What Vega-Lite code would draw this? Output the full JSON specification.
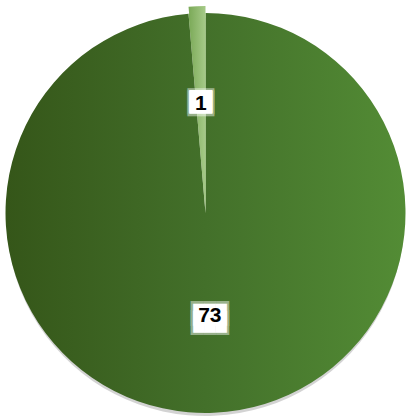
{
  "$schema": "https://vega.github.io/schema/vega-lite/v6.json",
  "width": 403,
  "height": 414,
  "autosize": "none",
  "padding": {"left": 4, "top": 6, "right": 0, "bottom": 0},
  "background": "white",
  "data": {"values": [{"cat": "A", "value": 73}, {"cat": "B", "value": 1}]},
  "encoding": {
    "theta": {"field": "value", "type": "quantitative", "stack": true},
    "order": {"field": "value", "sort": "descending"}
  },
  "layer": [
    {
      "mark": {"type": "arc", "radius": 199, "yOffset": 4, "fill": "#a8a8a8", "opacity": 0.5}
    },
    {
      "mark": {"type": "arc", "radius": 200},
      "encoding": {
        "fill": {
          "condition": {"test": "datum.cat == 'B'", "value": {"gradient": "linear", "stops": [{"offset": 0, "color": "#7aa957"}, {"offset": 1, "color": "#a6ca88"}]}},
          "value": {"gradient": "linear", "stops": [{"offset": 0, "color": "#355619"}, {"offset": 0.5, "color": "#43702a"}, {"offset": 1, "color": "#538c35"}]}
        }
      }
    },
    {
      "mark": {"type": "arc", "radius": 200, "yOffset": -7},
      "encoding": {
        "fill": {
          "condition": {"test": "datum.cat == 'B'", "value": {"gradient": "linear", "stops": [{"offset": 0, "color": "#7aa957"}, {"offset": 1, "color": "#a6ca88"}]}},
          "value": "transparent"
        }
      }
    },
    {
      "mark": {"type": "text", "radius": 111, "font": "DejaVu Sans Mono", "fontSize": 22, "lineHeight": 2, "color": "white", "baseline": "middle", "align": "center"},
      "encoding": {
        "text": {"value": ["██", "██"]},
        "opacity": {"condition": {"test": "datum.cat == 'A'", "value": 0}, "value": 0.45}
      }
    },
    {
      "mark": {"type": "text", "radius": 111, "font": "DejaVu Sans Mono", "fontSize": 19, "lineHeight": 1, "color": "white", "baseline": "middle", "align": "center"},
      "encoding": {
        "text": {"value": ["██", "██"]},
        "opacity": {"condition": {"test": "datum.cat == 'A'", "value": 0}, "value": 1}
      }
    },
    {
      "mark": {"type": "text", "radius": 111, "dy": 2, "font": "Liberation Sans", "fontWeight": "bold", "fontSize": 21, "color": "black", "baseline": "middle", "align": "center"},
      "encoding": {
        "text": {"field": "value", "type": "quantitative"},
        "opacity": {"condition": {"test": "datum.cat == 'A'", "value": 0}, "value": 1}
      }
    },
    {
      "mark": {"type": "text", "radius": 102, "font": "DejaVu Sans Mono", "fontSize": 21, "lineHeight": 9, "color": "white", "baseline": "middle", "align": "center"},
      "encoding": {
        "text": {"value": ["███", "███"]},
        "opacity": {"condition": {"test": "datum.cat == 'B'", "value": 0}, "value": 0.45}
      }
    },
    {
      "mark": {"type": "text", "radius": 102, "font": "DejaVu Sans Mono", "fontSize": 18.5, "lineHeight": 7, "color": "white", "baseline": "middle", "align": "center"},
      "encoding": {
        "text": {"value": ["███", "███"]},
        "opacity": {"condition": {"test": "datum.cat == 'B'", "value": 0}, "value": 1}
      }
    },
    {
      "mark": {"type": "text", "radius": 102, "dy": 1, "font": "Liberation Sans", "fontWeight": "bold", "fontSize": 21, "color": "black", "baseline": "middle", "align": "center"},
      "encoding": {
        "text": {"field": "value", "type": "quantitative"},
        "opacity": {"condition": {"test": "datum.cat == 'B'", "value": 0}, "value": 1}
      }
    }
  ]
}
